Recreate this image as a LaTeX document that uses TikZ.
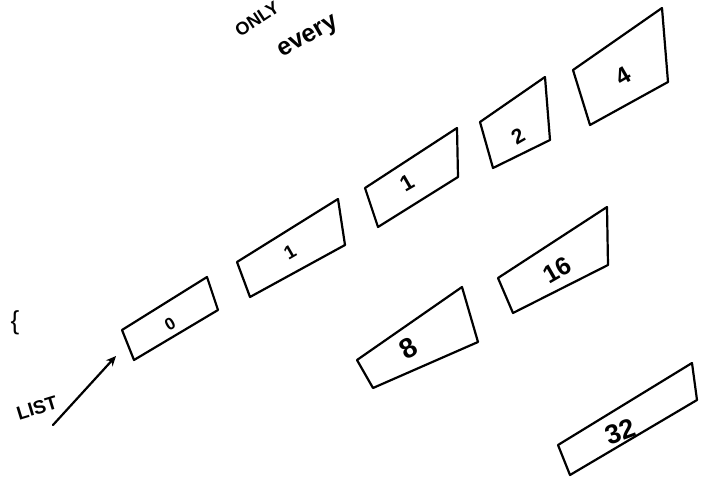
\documentclass[tikz,border=0pt]{standalone}
\usepackage{fontspec}
\setmainfont{Liberation Sans}
\usetikzlibrary{arrows.meta}
\begin{document}
\begin{tikzpicture}[x=1pt,y=-1pt,
  box/.style={draw, line width=2.2pt, line join=round, line cap=round},
  lbl/.style={inner sep=0pt, rotate=30},
  hand/.style={inner sep=0pt}]
\useasboundingbox (0,0) rectangle (705,479);
\clip (0,0) rectangle (705,479);
% box 0
\coordinate (b0tl) at (122,330); \coordinate (b0tr) at (207,277);
\coordinate (b0br) at (218,310); \coordinate (b0bl) at (134,360);
\draw[box] (b0bl) -- (b0tl) -- (b0tr) -- (b0br) -- cycle;
\node[lbl, font=\bfseries\fontsize{17}{17}\selectfont] (n0) at (170,324) {0};
% box 1a
\coordinate (b1tl) at (237,262); \coordinate (b1tr) at (338,199);
\coordinate (b1br) at (345,245); \coordinate (b1bl) at (250,297);
\draw[box] (b1bl) -- (b1tl) -- (b1tr) -- (b1br) -- cycle;
\node[lbl, font=\bfseries\fontsize{19}{19}\selectfont] (n1a) at (290,252) {1};
% box 1b
\coordinate (b2tl) at (365,188); \coordinate (b2tr) at (457,128);
\coordinate (b2br) at (458,177); \coordinate (b2bl) at (378,227);
\draw[box] (b2bl) -- (b2tl) -- (b2tr) -- (b2br) -- cycle;
\node[lbl, font=\bfseries\fontsize{22}{22}\selectfont] (n1b) at (407,183) {1};
% box 2
\coordinate (b3tl) at (480,122); \coordinate (b3tr) at (545,77);
\coordinate (b3br) at (550,140); \coordinate (b3bl) at (493,168);
\draw[box] (b3bl) -- (b3tl) -- (b3tr) -- (b3br) -- cycle;
\node[lbl, font=\bfseries\fontsize{21}{21}\selectfont] (n2) at (518,136) {2};
% box 4
\coordinate (b4tl) at (573,70); \coordinate (b4tr) at (662,8);
\coordinate (b4br) at (668,82); \coordinate (b4bl) at (590,125);
\draw[box] (b4bl) -- (b4tl) -- (b4tr) -- (b4br) -- cycle;
\node[lbl, font=\bfseries\fontsize{24}{24}\selectfont] (n4) at (623,76) {4};
% box 8
\coordinate (b5tl) at (357,360); \coordinate (b5tr) at (462,287);
\coordinate (b5br) at (478,342); \coordinate (b5bl) at (373,388);
\draw[box] (b5bl) -- (b5tl) -- (b5tr) -- (b5br) -- cycle;
\node[lbl, font=\bfseries\fontsize{28}{28}\selectfont] (n8) at (408,348) {8};
% box 16
\coordinate (b6tl) at (498,278); \coordinate (b6tr) at (607,207);
\coordinate (b6br) at (608,265); \coordinate (b6bl) at (513,313);
\draw[box] (b6bl) -- (b6tl) -- (b6tr) -- (b6br) -- cycle;
\node[lbl, font=\bfseries\fontsize{25}{25}\selectfont] (n16) at (557,270) {16};
% box 32
\coordinate (b7tl) at (558,445); \coordinate (b7tr) at (692,363);
\coordinate (b7br) at (697,400); \coordinate (b7bl) at (570,475);
\draw[box] (b7bl) -- (b7tl) -- (b7tr) -- (b7br) -- cycle;
\node[lbl, rotate=-10, font=\bfseries\fontsize{27}{27}\selectfont] (n32) at (620,432) {32};
% texts
\node[hand, rotate=33, font=\bfseries\fontsize{18}{18}\selectfont] (only) at (257,19) {ONLY};
\node[hand, rotate=30, font=\bfseries\fontsize{25}{25}\selectfont] (every) at (309,38) {every};
\node[hand, font=\fontsize{26}{26}\selectfont] (brace) at (15,323) {\{};
\node[hand, rotate=17, font=\bfseries\fontsize{19}{19}\selectfont] (list) at (37,408) {LIST};
% arrow
\coordinate (arrS) at (53,425);
\coordinate (arrE) at (116,356);
\draw[line width=2.2pt, line cap=round, -{Stealth[length=10pt,width=9pt]}] (arrS) -- (arrE);
\end{tikzpicture}
\end{document}
